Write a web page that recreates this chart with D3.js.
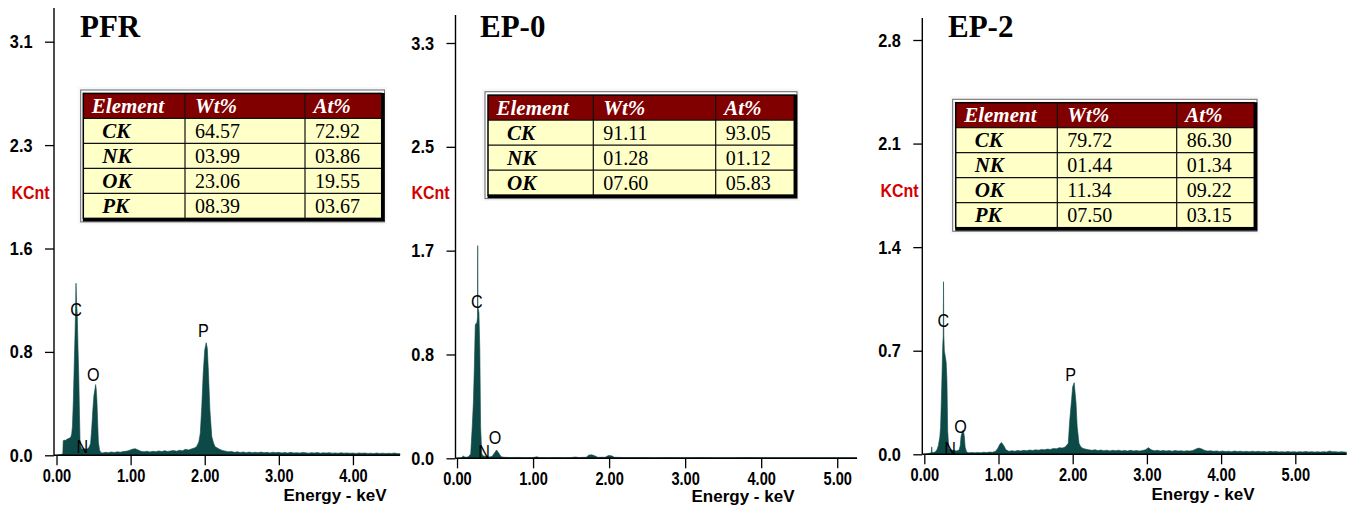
<!DOCTYPE html>
<html>
<head>
<meta charset="utf-8">
<script src="https://cdn.jsdelivr.net/npm/d3@7"></script>
<style>
  html, body { margin: 0; padding: 0; background: #fff; }
  svg { display: block; }
  .tick line { stroke: #000; stroke-width: 1.3; }
  .tall { transform-box: fill-box; transform-origin: center; }
</style>
</head>
<body>
<svg id="chart" width="1359" height="508"></svg>
<script>
// ---- EDS spectra: [energy keV, counts KCnt] ----
const pfrSpectrum = [
  [0,0],[0.04,0.004],[0.07,0.008],[0.085,0.012],[0.09,0.105],[0.10,0.115],[0.12,0.11],[0.14,0.12],[0.16,0.125],[0.18,0.13],
  [0.195,0.14],[0.205,0.16],[0.215,0.22],[0.227,0.41],[0.24,0.70],[0.25,0.91],[0.257,1.10],[0.263,1.29],[0.27,1.16],[0.28,1.05],
  [0.29,0.80],[0.30,0.60],[0.31,0.30],[0.317,0.12],[0.325,0.07],[0.34,0.05],[0.36,0.045],[0.38,0.05],[0.40,0.045],[0.42,0.05],
  [0.44,0.06],[0.46,0.09],[0.475,0.20],[0.49,0.34],[0.505,0.45],[0.52,0.50],[0.528,0.53],[0.535,0.50],[0.545,0.41],[0.555,0.25],
  [0.565,0.10],[0.58,0.04],[0.60,0.02],[0.62,0.018],[0.66,0.022],[0.70,0.02],[0.74,0.025],[0.78,0.021],[0.82,0.026],[0.86,0.023],
  [0.90,0.028],[0.94,0.03],[0.98,0.036],[1.02,0.045],[1.06,0.05],[1.10,0.04],[1.14,0.03],[1.18,0.026],[1.22,0.031],[1.26,0.025],
  [1.30,0.03],[1.34,0.027],[1.38,0.033],[1.42,0.028],[1.46,0.034],[1.50,0.029],[1.54,0.033],[1.58,0.036],[1.62,0.031],[1.66,0.038],
  [1.70,0.034],[1.74,0.045],[1.78,0.04],[1.82,0.048],[1.86,0.055],[1.89,0.065],[1.92,0.10],[1.94,0.165],[1.96,0.365],[1.98,0.62],
  [2.00,0.79],[2.02,0.844],[2.035,0.80],[2.05,0.62],[2.07,0.34],[2.095,0.14],[2.12,0.09],[2.14,0.065],[2.17,0.055],[2.20,0.045],
  [2.24,0.036],[2.28,0.031],[2.32,0.026],[2.36,0.029],[2.40,0.022],[2.44,0.026],[2.48,0.021],[2.52,0.025],[2.56,0.02],[2.60,0.024],
  [2.64,0.019],[2.68,0.023],[2.72,0.02],[2.76,0.024],[2.80,0.019],[2.84,0.022],[2.88,0.018],[2.92,0.023],[2.96,0.02],[3.00,0.022],
  [3.04,0.018],[3.08,0.021],[3.12,0.017],[3.16,0.022],[3.20,0.018],[3.24,0.02],[3.28,0.017],[3.32,0.021],[3.36,0.019],[3.40,0.016],
  [3.44,0.02],[3.48,0.017],[3.52,0.021],[3.56,0.016],[3.60,0.019],[3.64,0.017],[3.68,0.02],[3.72,0.016],[3.76,0.018],[3.80,0.015],
  [3.84,0.019],[3.88,0.016],[3.92,0.018],[3.96,0.015],[4.00,0.017],[4.04,0.014],[4.08,0.018],[4.12,0.015],[4.16,0.017],[4.20,0.014],
  [4.24,0.016],[4.28,0.013],[4.32,0.017],[4.36,0.014],[4.40,0.016],[4.44,0.013],[4.48,0.015],[4.52,0.014],[4.56,0.017],[4.60,0.013],
  [4.635,0.012]
];

const ep0Spectrum = [
  [0,0],[0.04,0.003],[0.07,0.006],[0.08,0.02],[0.09,0.012],[0.12,0.008],[0.15,0.012],[0.18,0.035],[0.20,0.25],[0.215,0.44],
  [0.228,0.73],[0.24,1.06],[0.25,1.07],[0.262,1.08],[0.269,1.12],[0.272,1.69],[0.275,1.20],[0.288,1.16],[0.30,0.86],[0.31,0.25],
  [0.325,0.04],[0.34,0.02],[0.38,0.015],[0.42,0.01],[0.46,0.015],[0.49,0.04],[0.52,0.066],[0.55,0.04],[0.58,0.012],[0.62,0.008],
  [0.70,0.006],[0.80,0.007],[0.90,0.005],[1.00,0.006],[1.05,0.012],[1.08,0.006],[1.20,0.005],[1.30,0.006],[1.40,0.005],[1.50,0.006],
  [1.56,0.01],[1.60,0.006],[1.70,0.008],[1.73,0.025],[1.77,0.028],[1.81,0.02],[1.85,0.008],[1.95,0.008],[1.99,0.022],[2.03,0.02],
  [2.07,0.008],[2.20,0.006],[2.40,0.006],[2.60,0.005],[2.80,0.006],[3.00,0.005],[3.20,0.006],[3.40,0.005],[3.60,0.005],[3.80,0.006],
  [4.00,0.005],[4.20,0.005],[4.40,0.004],[4.60,0.005],[4.80,0.004],[5.00,0.005],[5.26,0.004]
];

const ep2Spectrum = [
  [0,0],[0.04,0.004],[0.08,0.008],[0.095,0.012],[0.10,0.05],[0.105,0.012],[0.13,0.012],[0.15,0.018],[0.17,0.03],[0.19,0.06],
  [0.21,0.12],[0.22,0.19],[0.235,0.46],[0.248,0.73],[0.255,0.80],[0.259,1.166],[0.263,0.81],[0.27,0.70],[0.283,0.66],[0.295,0.62],
  [0.305,0.50],[0.315,0.16],[0.33,0.04],[0.36,0.03],[0.40,0.025],[0.44,0.022],[0.47,0.03],[0.485,0.06],[0.495,0.12],[0.51,0.15],
  [0.525,0.165],[0.54,0.12],[0.55,0.05],[0.57,0.015],[0.60,0.01],[0.64,0.012],[0.68,0.01],[0.72,0.013],[0.76,0.011],[0.80,0.014],
  [0.84,0.012],[0.88,0.015],[0.92,0.014],[0.96,0.02],[0.99,0.04],[1.02,0.07],[1.04,0.08],[1.07,0.06],[1.10,0.03],[1.14,0.02],
  [1.18,0.024],[1.22,0.021],[1.26,0.026],[1.30,0.022],[1.34,0.027],[1.38,0.024],[1.42,0.029],[1.46,0.026],[1.50,0.03],[1.54,0.028],
  [1.58,0.033],[1.62,0.03],[1.66,0.035],[1.70,0.033],[1.74,0.04],[1.78,0.037],[1.82,0.045],[1.86,0.042],[1.90,0.05],[1.94,0.074],
  [1.96,0.23],[1.985,0.37],[2.00,0.457],[2.02,0.484],[2.045,0.345],[2.06,0.19],[2.085,0.074],[2.11,0.05],[2.14,0.04],[2.18,0.034],
  [2.22,0.03],[2.26,0.027],[2.30,0.031],[2.34,0.025],[2.38,0.029],[2.42,0.024],[2.46,0.028],[2.50,0.023],[2.54,0.027],[2.58,0.024],
  [2.62,0.028],[2.66,0.023],[2.70,0.026],[2.74,0.022],[2.78,0.027],[2.82,0.023],[2.86,0.025],[2.90,0.022],[2.94,0.026],[2.98,0.03],
  [3.02,0.045],[3.06,0.03],[3.10,0.024],[3.14,0.027],[3.18,0.023],[3.22,0.026],[3.26,0.022],[3.30,0.025],[3.34,0.021],[3.38,0.025],
  [3.42,0.022],[3.46,0.024],[3.50,0.021],[3.54,0.024],[3.58,0.022],[3.62,0.026],[3.66,0.035],[3.70,0.042],[3.74,0.036],[3.78,0.026],
  [3.82,0.022],[3.86,0.024],[3.90,0.02],[3.94,0.023],[3.98,0.019],[4.02,0.022],[4.06,0.019],[4.10,0.021],[4.14,0.018],[4.18,0.022],
  [4.22,0.019],[4.26,0.021],[4.30,0.018],[4.34,0.02],[4.38,0.017],[4.42,0.021],[4.46,0.018],[4.50,0.02],[4.54,0.017],[4.58,0.019],
  [4.62,0.016],[4.66,0.02],[4.70,0.017],[4.74,0.019],[4.78,0.016],[4.82,0.018],[4.86,0.016],[4.90,0.019],[4.94,0.016],[4.98,0.018],
  [5.02,0.015],[5.06,0.018],[5.10,0.016],[5.14,0.019],[5.18,0.016],[5.22,0.018],[5.26,0.015],[5.30,0.017],[5.34,0.015],[5.38,0.018],
  [5.42,0.016],[5.46,0.022],[5.50,0.017],[5.54,0.018],[5.58,0.015],[5.62,0.017],[5.66,0.016],[5.69,0.014]
];

// ---- axis ticks ----
const pfrYTicks = [0, 0.775, 1.55, 2.325, 3.1];
const pfrYLabels = ["0.0", "0.8", "1.6", "2.3", "3.1"];
const ep0YTicks = [0, 0.825, 1.65, 2.475, 3.3];
const ep0YLabels = ["0.0", "0.8", "1.7", "2.5", "3.3"];
const ep2YTicks = [0, 0.7, 1.4, 2.1, 2.8];
const ep2YLabels = ["0.0", "0.7", "1.4", "2.1", "2.8"];
const pfrXTicks = [0, 1, 2, 3, 4];
const ep0XTicks = [0, 1, 2, 3, 4, 5];
const ep2XTicks = [0, 1, 2, 3, 4, 5];

// ---- peak identifications: element, energy (keV), label height (KCnt) ----
const pfrPeaks = [["C", 0.263, 1.09], ["N", 0.348, 0.064], ["O", 0.497, 0.607], ["P", 1.981, 0.939]];
const ep0Peaks = [["C", 0.259, 1.25], ["N", 0.355, 0.052], ["O", 0.50, 0.164]];
const ep2Peaks = [["C", 0.256, 0.907], ["N", 0.346, 0.04], ["O", 0.49, 0.186], ["P", 1.973, 0.54]];

// ---- quantification tables ----
const tableHeader = ["Element", "Wt%", "At%"];
const pfrElements = ["CK", "NK", "OK", "PK"];
const pfrWt = ["64.57", "03.99", "23.06", "08.39"];
const pfrAt = ["72.92", "03.86", "19.55", "03.67"];
const ep0Elements = ["CK", "NK", "OK"];
const ep0Wt = ["91.11", "01.28", "07.60"];
const ep0At = ["93.05", "01.12", "05.83"];
const ep2Elements = ["CK", "NK", "OK", "PK"];
const ep2Wt = ["79.72", "01.44", "11.34", "07.50"];
const ep2At = ["86.30", "01.34", "09.22", "03.15"];

// ---- panel layout ----
const panels = [
  { title: "PFR", spectrum: pfrSpectrum, yTicks: pfrYTicks, yLabels: pfrYLabels, xTicks: pfrXTicks, peaks: pfrPeaks,
    elements: pfrElements, wt: pfrWt, at: pfrAt,
    xDom: [-0.034, 4.635], xRange: [54, 400], yRange: [455.3, 41.7], axisTop: 8,
    titleX: 80, kcnt: [11.5, 198], energyX: 335, energyY: 501,
    table: { left: 80.7, top: 90, cols: [83.3, 185, 305, 381.7] } },
  { title: "EP-0", spectrum: ep0Spectrum, yTicks: ep0YTicks, yLabels: ep0YLabels, xTicks: ep0XTicks, peaks: ep0Peaks,
    elements: ep0Elements, wt: ep0Wt, at: ep0At,
    xDom: [-0.02, 5.26], xRange: [455.5, 857], yRange: [458.3, 43], axisTop: 15,
    titleX: 480, kcnt: [411.5, 198.5], energyX: 743, energyY: 502,
    table: { left: 485, top: 91.7, cols: [488, 593.3, 715.7, 794.3] } },
  { title: "EP-2", spectrum: ep2Spectrum, yTicks: ep2YTicks, yLabels: ep2YLabels, xTicks: ep2XTicks, peaks: ep2Peaks,
    elements: ep2Elements, wt: ep2Wt, at: ep2At,
    xDom: [-0.027, 5.69], xRange: [922.3, 1346.5], yRange: [454.3, 40], axisTop: 18,
    titleX: 948, kcnt: [880.5, 196], energyX: 1203, energyY: 500,
    table: { left: 952.7, top: 99.3, cols: [955.7, 1057.3, 1176.7, 1254.3] } }
];

const SANS = "'Liberation Sans', Arial, sans-serif";
const SERIF = "'Liberation Serif', 'Times New Roman', serif";
const FILL = "#0d4a47";

const svg = d3.select("#chart");

// instrument-style lettering: slightly tall, narrow sans glyphs
function tall(sel, sx, sy) {
  sel.classed("tall", true).style("transform", `scale(${sx},${sy})`);
}

panels.forEach(p => {
  const g = svg.append("g");
  const x = d3.scaleLinear().domain(p.xDom).range(p.xRange);
  const y = d3.scaleLinear().domain([0, p.yTicks[p.yTicks.length - 1]]).range(p.yRange);
  const x0 = p.xRange[0], base = y(0);

  // spectrum fill
  const area = d3.area().x(d => x(d[0])).y0(base).y1(d => y(d[1]));
  g.append("path").datum(p.spectrum).attr("d", area)
    .attr("fill", FILL).attr("stroke", FILL).attr("stroke-width", 0.6).attr("stroke-linejoin", "miter");

  // axis lines
  g.append("line").attr("x1", x0).attr("x2", x0).attr("y1", p.axisTop).attr("y2", base)
    .attr("stroke", "#000").attr("stroke-width", 1.4);
  g.append("line").attr("x1", x0).attr("x2", p.xRange[1]).attr("y1", base).attr("y2", base)
    .attr("stroke", "#000").attr("stroke-width", 1.4);

  // y axis ticks
  const yAxis = d3.axisLeft(y).tickValues(p.yTicks).tickFormat((d, i) => p.yLabels[i])
    .tickSize(9).tickPadding(12);
  const ya = g.append("g").attr("transform", `translate(${x0},0)`).call(yAxis);
  ya.select(".domain").remove();
  ya.selectAll("text").attr("font-family", SANS).attr("font-weight", "bold")
    .attr("font-size", 17).attr("fill", "#000").call(tall, 0.96, 1.1);

  // x axis ticks
  const xAxis = d3.axisBottom(x).tickValues(p.xTicks).tickFormat(d3.format(".2f"))
    .tickSize(10).tickPadding(4);
  const xa = g.append("g").attr("transform", `translate(0,${base})`).call(xAxis);
  xa.select(".domain").remove();
  xa.selectAll("text").attr("font-family", SANS).attr("font-weight", "bold")
    .attr("font-size", 17).attr("fill", "#000").call(tall, 0.86, 1.08);

  // axis titles
  g.append("text").attr("x", p.kcnt[0]).attr("y", p.kcnt[1]).text("KCnt")
    .attr("font-family", SANS).attr("font-weight", "bold").attr("font-size", 16).attr("fill", "#d40000")
    .call(tall, 1.0, 1.12);
  g.append("text").attr("x", p.energyX).attr("y", p.energyY).attr("text-anchor", "middle").text("Energy - keV")
    .attr("font-family", SANS).attr("font-weight", "bold").attr("font-size", 17).attr("fill", "#000");

  // peak labels
  g.selectAll("text.peak").data(p.peaks).join("text").attr("class", "peak")
    .attr("x", d => x(d[1])).attr("y", d => y(d[2])).attr("dy", "0.36em")
    .attr("text-anchor", "middle").text(d => d[0])
    .attr("font-family", SANS).attr("font-size", 17).attr("fill", "#000")
    .call(tall, 0.95, 1.08);

  // sample title
  g.append("text").attr("x", p.titleX).attr("y", 37.3).text(p.title)
    .attr("font-family", SERIF).attr("font-weight", "bold").attr("font-size", 31).attr("fill", "#000");

  // quantification table
  const t = p.table, rowH = 25;
  const nRows = p.elements.length + 1;
  const innerTop = t.top + 3.4;
  const innerBottom = innerTop + nRows * rowH;
  const [cL, c1, c2, cR] = t.cols;
  const tg = g.append("g");
  tg.append("rect").attr("x", t.left - 3).attr("y", t.top - 3)
    .attr("width", cR + 8 - t.left).attr("height", innerBottom + 9 - t.top)
    .attr("fill", "#f7f7f7");
  tg.append("rect").attr("x", t.left).attr("y", t.top)
    .attr("width", cR + 2.7 - t.left).attr("height", innerBottom + 3.5 - t.top)
    .attr("fill", "#fff").attr("stroke", "#666").attr("stroke-width", 1);
  // header band and body
  tg.append("rect").attr("x", cL).attr("y", innerTop).attr("width", cR - cL).attr("height", rowH)
    .attr("fill", "#800000");
  tg.append("rect").attr("x", cL).attr("y", innerTop + rowH).attr("width", cR - cL).attr("height", (nRows - 1) * rowH)
    .attr("fill", "#ffffc8");
  // grid
  d3.range(1, nRows).forEach(r => {
    tg.append("line").attr("x1", cL).attr("x2", cR).attr("y1", innerTop + r * rowH).attr("y2", innerTop + r * rowH)
      .attr("stroke", "#111").attr("stroke-width", 1.2);
  });
  [c1, c2].forEach(cx => {
    tg.append("line").attr("x1", cx).attr("x2", cx).attr("y1", innerTop).attr("y2", innerBottom)
      .attr("stroke", "#111").attr("stroke-width", 1.2);
  });
  // raised frame
  tg.append("rect").attr("x", cL).attr("y", innerTop).attr("width", cR - cL).attr("height", innerBottom - innerTop)
    .attr("fill", "none").attr("stroke", "#000").attr("stroke-width", 1.5);
  tg.append("path")
    .attr("d", `M${cR + 1.5},${innerTop - 0.5} V${innerBottom + 1.5} H${cL - 0.5}`)
    .attr("fill", "none").attr("stroke", "#000").attr("stroke-width", 3);

  // header text
  const colX = [cL + 8.5, c1 + 10, c2 + 8.5];
  tableHeader.forEach((h, i) => {
    tg.append("text").attr("x", colX[i]).attr("y", innerTop + 19.4).text(h)
      .attr("font-family", SERIF).attr("font-weight", "bold").attr("font-style", "italic")
      .attr("font-size", 21).attr("fill", "#fff");
  });
  p.elements.forEach((el, r) => {
    const yy = innerTop + (r + 1) * rowH + 19.4;
    tg.append("text").attr("x", cL + 19).attr("y", yy).text(el)
      .attr("font-family", SERIF).attr("font-weight", "bold").attr("font-style", "italic")
      .attr("font-size", 21).attr("fill", "#000");
    tg.append("text").attr("x", c1 + 10).attr("y", yy).text(p.wt[r])
      .attr("font-family", SERIF).attr("font-size", 20).attr("fill", "#000");
    tg.append("text").attr("x", c2 + 10).attr("y", yy).text(p.at[r])
      .attr("font-family", SERIF).attr("font-size", 20).attr("fill", "#000");
  });
});
</script>
</body>
</html>
